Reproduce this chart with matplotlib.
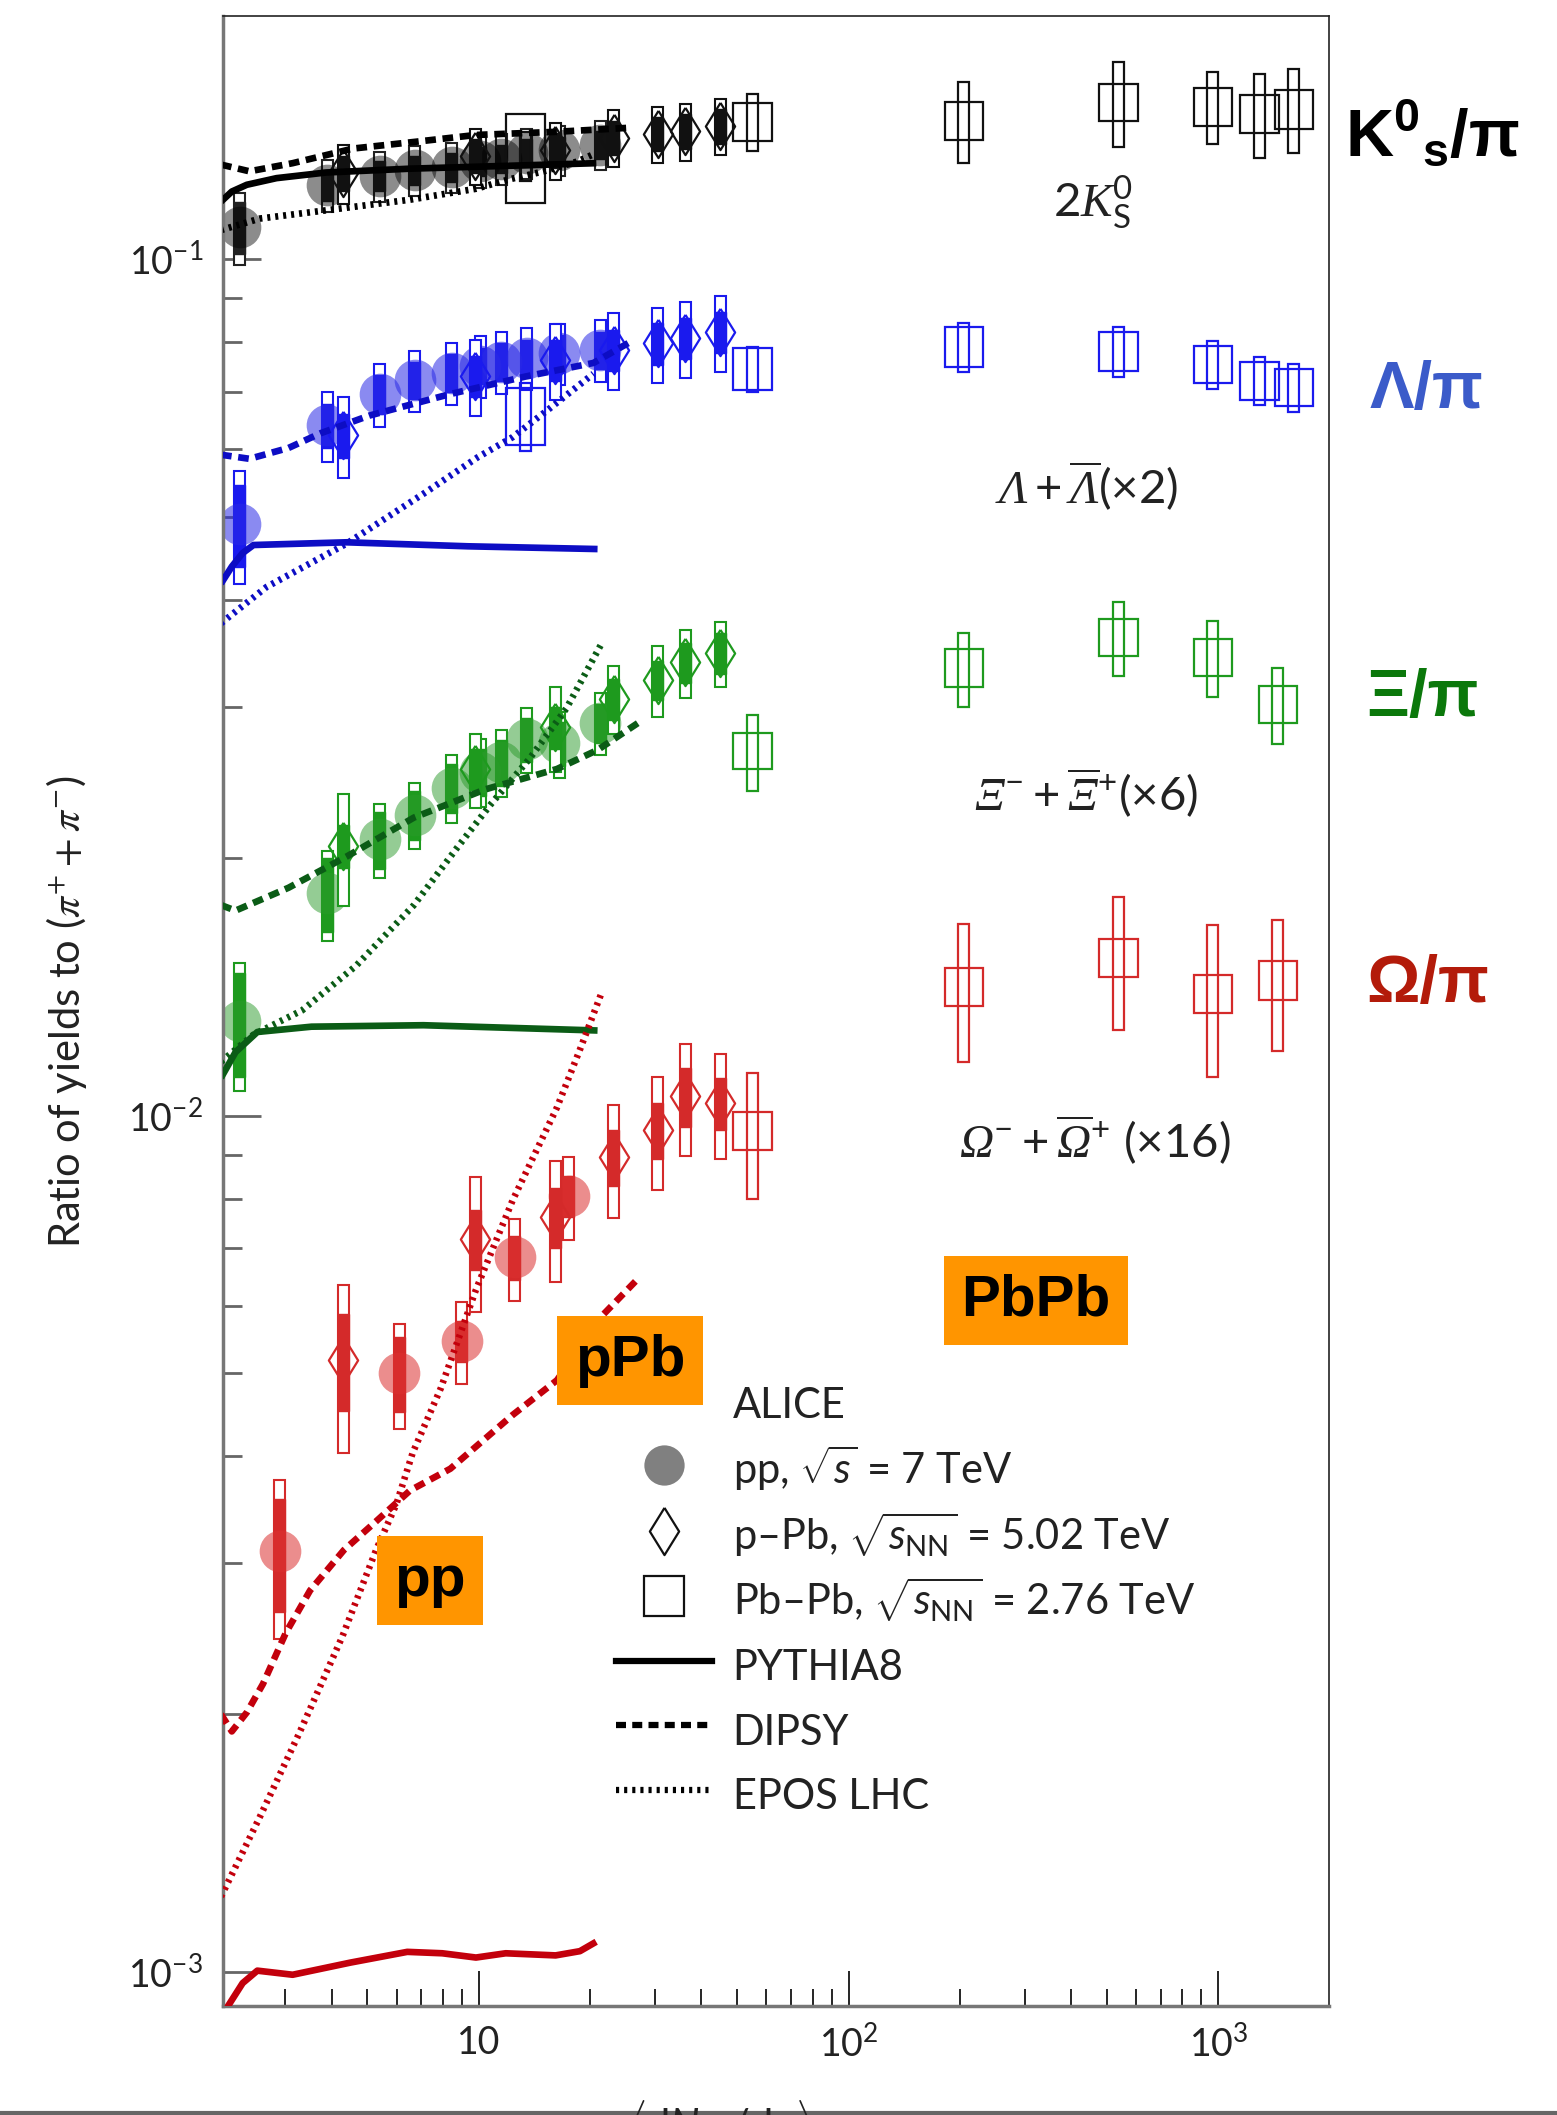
import numpy as np
import matplotlib
matplotlib.use("Agg")
import matplotlib.pyplot as plt
from matplotlib.patches import Rectangle
from matplotlib.lines import Line2D
from matplotlib.ticker import LogLocator, NullFormatter

plt.rcParams['font.family'] = ['Lato', 'DejaVu Sans']
plt.rcParams['mathtext.fontset'] = 'custom'
plt.rcParams['mathtext.rm'] = 'Lato'
plt.rcParams['mathtext.it'] = 'Lato:italic'
plt.rcParams['mathtext.bf'] = 'Liberation Sans:bold'
# serif italic for the particle symbols
plt.rcParams['mathtext.sf'] = 'Liberation Serif:italic'

# multiplicity classes <dNch/deta>
pp_x = [2.26, 3.90, 5.40, 6.72, 8.45, 10.1, 11.5, 13.5, 16.5, 21.3]
om_pp_x = [2.9, 6.1, 9.0, 12.5, 17.5]
ppb_x = [4.3, 9.8, 16.1, 23.2, 30.5, 36.2, 45.0]
pbpb_x = [13.4, 55, 205, 537, 966, 1294, 1601]
pbpb_ms_x = [55, 205, 537, 966, 1448]

# 2K0S / pi
k0_pp = [0.109, 0.122, 0.125, 0.127, 0.128, 0.130, 0.131, 0.133, 0.134, 0.136]
k0_pp_stat = [0.0075, 0.005, 0.005, 0.005, 0.005, 0.005, 0.005, 0.005, 0.005, 0.005]
k0_pp_sys = [0.0105, 0.0085, 0.0085, 0.0085, 0.0085, 0.009, 0.009, 0.009, 0.009, 0.009]
k0_ppb = [0.126, 0.132, 0.134, 0.1386, 0.140, 0.141, 0.143]
k0_ppb_stat = [0.0060, 0.0060, 0.0062, 0.0064, 0.0064, 0.0065, 0.0066]
k0_ppb_sys = [0.0100, 0.0100, 0.0102, 0.0105, 0.0106, 0.0107, 0.0108]
k0_pbpb = [0.1320, 0.1447, 0.1453, 0.1526, 0.1507, 0.1479, 0.1498]
k0_pbpb_box = [0.0156, 0.0074, 0.0074, 0.0075, 0.0077, 0.0075, 0.0079]
k0_pbpb_bar = [0.0088, 0.0110, 0.0158, 0.0174, 0.0145, 0.0166, 0.0168]

# (Lambda + anti-Lambda) / pi
lam_pp = [0.0491, 0.0640, 0.0696, 0.0722, 0.0737, 0.0751, 0.0759, 0.0767, 0.0776, 0.0784]
lam_pp_stat = [0.0054, 0.0038, 0.0036, 0.0036, 0.0037, 0.0037, 0.0038, 0.0038, 0.0039, 0.0039]
lam_pp_sys = [0.0074, 0.0060, 0.0059, 0.0060, 0.0061, 0.0062, 0.0063, 0.0064, 0.0064, 0.0065]
lam_ppb = [0.0623, 0.0730, 0.0762, 0.0784, 0.0797, 0.0809, 0.0822]
lam_ppb_stat = [0.0037, 0.0040, 0.0042, 0.0043, 0.0044, 0.0045, 0.0045]
lam_ppb_sys = [0.0068, 0.0075, 0.0078, 0.0080, 0.0080, 0.0082, 0.0083]
lam_pbpb = [0.0657, 0.0745, 0.0790, 0.0781, 0.0754, 0.0722, 0.0709]
lam_pbpb_box = [0.0050, 0.0042, 0.0042, 0.0041, 0.0038, 0.0037, 0.0036]
lam_pbpb_bar = [0.0060, 0.0045, 0.0051, 0.0052, 0.0049, 0.0046, 0.0046]

# (Xi- + anti-Xi+) / pi  (x6)
xi_pp = [0.01289, 0.01819, 0.02103, 0.02245, 0.02414, 0.02521, 0.02586, 0.02750, 0.02720, 0.02873]
xi_pp_stat = [0.0018, 0.0018, 0.0016, 0.0015, 0.0016, 0.0016, 0.0016, 0.0016, 0.0016, 0.0015]
xi_pp_sys = [0.0022, 0.0022, 0.0021, 0.0020, 0.0022, 0.0023, 0.0023, 0.0024, 0.0024, 0.0024]
xi_ppb = [0.02065, 0.02539, 0.02841, 0.03067, 0.03227, 0.03382, 0.03469]
xi_ppb_stat = [0.0012, 0.0014, 0.0016, 0.0017, 0.0017, 0.0018, 0.0019]
xi_ppb_sys = [0.0031, 0.0025, 0.0032, 0.0028, 0.0031, 0.0031, 0.0030]
xi_pbpb = [0.02666, 0.03333, 0.03622, 0.03434, 0.03022]
xi_pbpb_box = [0.0013, 0.0017, 0.0018, 0.0017, 0.0015]
xi_pbpb_bar = [0.0027, 0.0033, 0.0036, 0.0035, 0.0031]

# (Omega- + anti-Omega+) / pi  (x16)
om_pp = [0.00310, 0.00501, 0.00546, 0.00683, 0.00805]
om_pp_stat = [0.00047, 0.00050, 0.00030, 0.00041, 0.00044]
om_pp_sys = [0.00065, 0.00070, 0.00060, 0.00075, 0.00089]
om_ppb = [0.00519, 0.00718, 0.00762, 0.00894, 0.00963, 0.01054, 0.01035]
om_ppb_stat = [0.00067, 0.00057, 0.00061, 0.00067, 0.00072, 0.00084, 0.00072]
om_ppb_sys = [0.00115, 0.00129, 0.00122, 0.00134, 0.00145, 0.00158, 0.00145]
om_pbpb = [0.0096, 0.01415, 0.0153, 0.0139, 0.0144]
om_pbpb_box = [0.00049, 0.00072, 0.00078, 0.00071, 0.00074]
om_pbpb_bar = [0.0016, 0.0026, 0.0027, 0.0028, 0.0025]

# model curves (pp)
k0_pythia_x = [2.01, 2.15, 2.36, 2.84, 3.87, 6.52, 12.1, 20.8]
k0_pythia = [0.1167, 0.1199, 0.1221, 0.1243, 0.1262, 0.1275, 0.1285, 0.1294]
k0_dipsy_x = [2.01, 2.40, 3.14, 4.58, 6.79, 9.83, 16.3, 25.4]
k0_dipsy = [0.1289, 0.1266, 0.1294, 0.1346, 0.1371, 0.1396, 0.1408, 0.1423]
k0_epos_x = [2.01, 2.56, 3.87, 6.52, 9.83, 12.1, 15.0, 18.5, 20.4]
k0_epos = [0.1081, 0.1115, 0.1140, 0.1173, 0.1208, 0.1239, 0.1266, 0.1300, 0.1325]

lam_pythia_x = [2.01, 2.15, 2.30, 2.46, 4.39, 9.35, 20.96]
lam_pythia = [0.0418, 0.04375, 0.04537, 0.04636, 0.04670, 0.04620, 0.04586]
lam_dipsy_x = [2.01, 2.40, 3.06, 3.74, 5.06, 8.38, 13.42, 20.43, 25.85]
lam_dipsy = [0.05909, 0.05845, 0.06018, 0.06262, 0.06565, 0.06957, 0.07294, 0.07563, 0.08015]
lam_epos_x = [2.01, 2.67, 4.39, 7.09, 9.92, 12.34, 15.35, 20.43]
lam_epos = [0.03757, 0.04142, 0.04653, 0.05321, 0.05866, 0.06194, 0.06662, 0.07347]

xi_pythia_x = [2.01, 2.20, 2.52, 3.53, 7.09, 20.96]
xi_pythia = [0.01107, 0.01186, 0.01252, 0.01270, 0.01275, 0.01257]
xi_dipsy_x = [2.01, 2.20, 3.06, 4.39, 6.68, 10.43, 16.28, 20.96, 26.96]
xi_dipsy = [0.01761, 0.01735, 0.01845, 0.02006, 0.02228, 0.02404, 0.02539, 0.02672, 0.02873]
xi_epos_x = [2.01, 2.46, 3.33, 4.66, 6.68, 8.82, 10.79, 13.76, 17.27, 21.49]
xi_epos = [0.01156, 0.01243, 0.01327, 0.01496, 0.01761, 0.02065, 0.02310, 0.02614, 0.02989, 0.03557]

om_pythia_x = [2.01, 2.10, 2.30, 2.52, 3.14, 4.50, 6.41, 7.97, 9.83, 11.83, 16.14, 18.78, 20.78]
om_pythia = [0.00085, 0.000913, 0.000971, 0.001004, 0.000993, 0.001026, 0.001056, 0.001052,
             0.001040, 0.001052, 0.001046, 0.001058, 0.001085]
om_dipsy_x = [2.01, 2.15, 2.36, 2.61, 3.01, 3.50, 4.32, 5.28, 6.52, 8.38, 12.34, 16.28, 21.49, 26.96]
om_dipsy = [0.00200, 0.00191, 0.00201, 0.00217, 0.00249, 0.00279, 0.00311, 0.00336, 0.00365,
            0.00387, 0.00447, 0.00491, 0.00583, 0.00645]
om_epos_x = [2.01, 2.56, 3.27, 4.28, 5.28, 5.99, 6.63, 7.90, 9.83, 12.34, 16.28, 18.78, 21.49]
om_epos = [0.001225, 0.001518, 0.00190, 0.002466, 0.003111, 0.003519, 0.004039, 0.004806,
           0.006262, 0.007955, 0.01022, 0.01194, 0.01391]

HW_NARROW = 0.015   # half width of error boxes, in decades
HW_WIDE = 0.052
DIAMOND = [(0, 1), (0.62, 0), (0, -1), (-0.62, 0), (0, 1)]
DASHED = (0, (1.6, 1.0))
DOTTED = (0, (0.45, 0.75))

fig = plt.figure(figsize=(15.57, 21.15), dpi=100)
ax = fig.add_axes([0.14297, 0.05154, 0.71060, 0.94080])
ax.set_xscale('log')
ax.set_yscale('log')


def boxes(x, y, err, hw, **kw):
    for xi, yi, ei in zip(x, y, err):
        x0 = xi * 10 ** (-hw)
        x1 = xi * 10 ** hw
        ax.add_patch(Rectangle((x0, yi - ei), x1 - x0, 2 * ei, **kw))


def pp_points(x, y, stat, sys, col, dot, alpha):
    boxes(x, y, sys, HW_NARROW, facecolor='white', edgecolor=col, lw=1.5, zorder=2)
    boxes(x, y, stat, HW_NARROW, facecolor=col, edgecolor=col, lw=1.0, zorder=2.1)
    ax.plot(x, y, ls='none', marker='o', ms=30, mfc=dot, mec='none', alpha=alpha, zorder=2.2)


def ppb_points(x, y, stat, sys, col):
    boxes(x, y, sys, HW_NARROW, facecolor='white', edgecolor=col, lw=1.5, zorder=2.3)
    boxes(x, y, stat, HW_NARROW, facecolor=col, edgecolor=col, lw=1.0, zorder=2.4)
    ax.plot(x, y, ls='none', marker=DIAMOND, ms=34, mfc='none', mec=col, mew=1.6, zorder=2.5)


def pbpb_points(x, y, box, bar, col):
    boxes(x, y, box, HW_WIDE, facecolor='none', edgecolor=col, lw=1.6, zorder=2.6)
    boxes(x, y, bar, HW_NARROW, facecolor='none', edgecolor=col, lw=1.6, zorder=2.6)


def models(px, py, dx, dy, ex, ey, col):
    ax.plot(px, py, color=col, lw=4.8, solid_capstyle='butt', zorder=5)
    ax.plot(dx, dy, color=col, lw=4.8, ls=DASHED, dash_capstyle='butt', zorder=5)
    ax.plot(ex, ey, color=col, lw=4.8, ls=DOTTED, dash_capstyle='butt', zorder=5)


# K0S
pp_points(pp_x, k0_pp, k0_pp_stat, k0_pp_sys, '#222222', '#000000', 0.45)
ppb_points(ppb_x, k0_ppb, k0_ppb_stat, k0_ppb_sys, '#111111')
pbpb_points(pbpb_x, k0_pbpb, k0_pbpb_box, k0_pbpb_bar, '#111111')
models(k0_pythia_x, k0_pythia, k0_dipsy_x, k0_dipsy, k0_epos_x, k0_epos, '#000000')

# Lambda
pp_points(pp_x, lam_pp, lam_pp_stat, lam_pp_sys, '#1a1aee', '#2a2ae6', 0.55)
ppb_points(ppb_x, lam_ppb, lam_ppb_stat, lam_ppb_sys, '#1a1aee')
pbpb_points(pbpb_x, lam_pbpb, lam_pbpb_box, lam_pbpb_bar, '#1a1aee')
models(lam_pythia_x, lam_pythia, lam_dipsy_x, lam_dipsy, lam_epos_x, lam_epos, '#0d0dc4')

# Xi
pp_points(pp_x, xi_pp, xi_pp_stat, xi_pp_sys, '#1e9a1e', '#2a9a2a', 0.5)
ppb_points(ppb_x, xi_ppb, xi_ppb_stat, xi_ppb_sys, '#1e9a1e')
pbpb_points(pbpb_ms_x, xi_pbpb, xi_pbpb_box, xi_pbpb_bar, '#1e9a1e')
models(xi_pythia_x, xi_pythia, xi_dipsy_x, xi_dipsy, xi_epos_x, xi_epos, '#0b5c16')

# Omega
pp_points(om_pp_x, om_pp, om_pp_stat, om_pp_sys, '#d42a2a', '#dc3030', 0.55)
ppb_points(ppb_x, om_ppb, om_ppb_stat, om_ppb_sys, '#d42a2a')
pbpb_points(pbpb_ms_x, om_pbpb, om_pbpb_box, om_pbpb_bar, '#d42a2a')
models(om_pythia_x, om_pythia, om_dipsy_x, om_dipsy, om_epos_x, om_epos, '#c3000c')

ax.set_xlim(2.03, 1992)
ax.set_ylim(9.13e-4, 0.1921)
ax.set_xticks([10, 100, 1000])
ax.set_xticklabels(['10', r'$10^{2}$', r'$10^{3}$'])
ax.set_yticks([1e-3, 1e-2, 1e-1])
ax.set_yticklabels([r'$10^{-3}$', r'$10^{-2}$', r'$10^{-1}$'])
ax.xaxis.set_minor_locator(LogLocator(base=10, subs=np.arange(2, 10), numticks=50))
ax.yaxis.set_minor_locator(LogLocator(base=10, subs=np.arange(2, 10), numticks=50))
ax.xaxis.set_minor_formatter(NullFormatter())
ax.yaxis.set_minor_formatter(NullFormatter())
ax.tick_params(which='both', direction='in', top=False, right=False, labelcolor='#222222')
ax.tick_params(axis='x', which='major', length=25, width=1.2, labelsize=27, pad=14)
ax.tick_params(axis='x', which='minor', length=12, width=1.2)
ax.tick_params(axis='y', which='major', length=27, width=2.0, color='#666666', labelsize=27, pad=14)
ax.tick_params(axis='y', which='minor', length=14, width=2.0, color='#666666')
for side in ['left', 'bottom']:
    ax.spines[side].set_color('#777777')
    ax.spines[side].set_linewidth(2.5)
for side in ['top', 'right']:
    ax.spines[side].set_color('#222222')
    ax.spines[side].set_linewidth(1.2)

# legend
handles = [
    Line2D([], [], ls='none'),
    Line2D([], [], ls='none', marker='o', ms=29, mfc='#808080', mec='none'),
    Line2D([], [], ls='none', marker=DIAMOND, ms=34, mfc='none', mec='#111111', mew=1.6),
    Line2D([], [], ls='none', marker='s', ms=29, mfc='none', mec='#111111', mew=1.6),
    Line2D([], [], color='black', lw=4.5),
    Line2D([], [], color='black', lw=4.5, ls=(0, (1.6, 1.0))),
    Line2D([], [], color='black', lw=4.5, ls=(0, (0.5, 0.8))),
]
labels = ['ALICE',
          r'pp, $\sqrt{s}$ = 7 TeV',
          r'p–Pb, $\sqrt{s_{\rm NN}}$ = 5.02 TeV',
          r'Pb–Pb, $\sqrt{s_{\rm NN}}$ = 2.76 TeV',
          'PYTHIA8', 'DIPSY', 'EPOS LHC']
leg = ax.legend(handles, labels, loc='upper left', bbox_to_anchor=(616 / 1557, 1 - 1379 / 2115),
                bbox_transform=fig.transFigure, frameon=False, fontsize=30, handlelength=2.3,
                handleheight=1.45, handletextpad=0.5, labelspacing=0.36, borderpad=0,
                borderaxespad=0)
for t in leg.get_texts():
    t.set_color('#222222')

# species labels inside the frame
ann = dict(ha='center', va='center', fontsize=34, color='#222222')
fig.text(0.702, 0.9045, r'2$\mathsf{K}^{0}_{\mathrm{S}}$', **ann)
fig.text(0.6975, 0.7702, r'$\mathsf{\Lambda}+\overline{\mathsf{\Lambda}}$(×2)', **ann)
fig.text(0.6975, 0.6251, r'$\mathsf{\Xi}^{-}+\overline{\mathsf{\Xi}}^{+}$(×6)', **ann)
fig.text(0.7033, 0.4610, r'$\mathsf{\Omega}^{-}+\overline{\mathsf{\Omega}}^{+}$ (×16)', **ann)

# ratio names on the right
side = dict(ha='left', va='center', fontsize=48, fontweight='bold', family='Liberation Sans')
fig.text(0.8638, 0.9362, r'$\mathbf{K^{0}{}_{s}/π}$', color='black', **side)
fig.text(0.8793, 0.8151, 'Λ/π', color='#3b5bc9', **side)
fig.text(0.8777, 0.6695, 'Ξ/π', color='#0b780b', **side)
fig.text(0.8777, 0.5343, 'Ω/π', color='#b31b0a', **side)

# collision system tags
tag = dict(ha='center', va='center', fontsize=42, fontweight='bold', family='Liberation Sans',
           color='black', bbox=dict(boxstyle='square,pad=0.3', fc='#ff9500', ec='none'))
fig.text(0.6654, 0.3853, 'PbPb', **tag)
fig.text(0.4046, 0.3567, 'pPb', **tag)
fig.text(0.2762, 0.2527, 'pp', **tag)

fig.text(0.043, 0.5215, r'Ratio of yields to ($\pi^{+}+\pi^{-}$)', rotation=90, ha='center',
         va='center', fontsize=30, color='#222222', math_fontfamily='stix')
fig.text(0.4624, 0.008, r'$\langle\mathrm{d}N_{\rm ch}/\mathrm{d}\eta\rangle$', ha='center',
         va='top', fontsize=30, color='#222222')
fig.add_artist(Line2D([0, 1], [0.0008, 0.0008], transform=fig.transFigure, color='#666666', lw=3))

fig.savefig('out.png', dpi=100)
